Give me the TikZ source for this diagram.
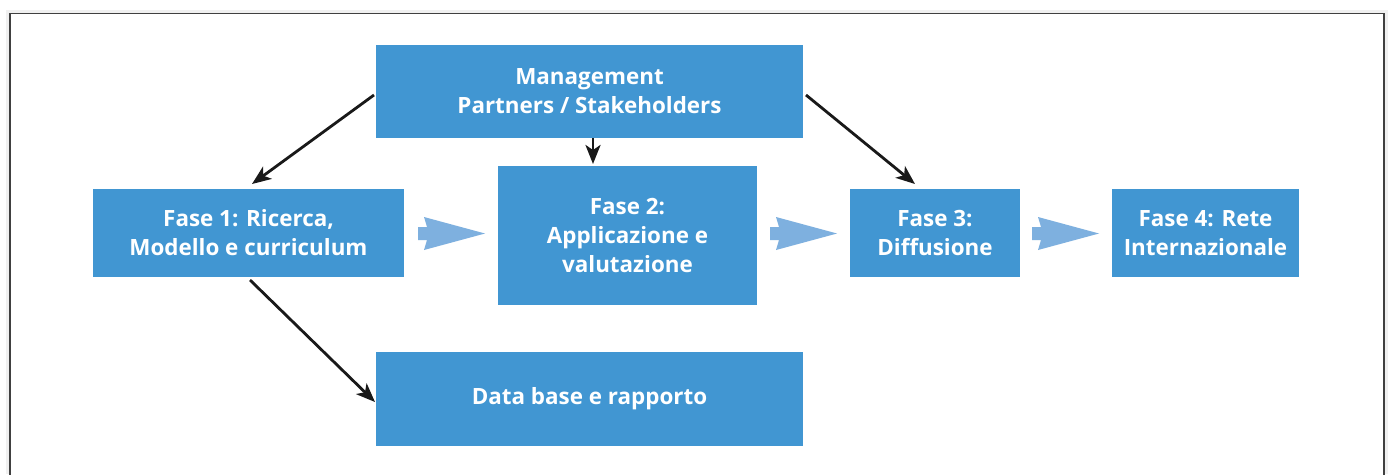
\documentclass[tikz,border=0pt]{standalone}
\usepackage{fontspec}
\setmainfont{Open Sans}
\usetikzlibrary{arrows.meta}
\definecolor{boxblue}{HTML}{4196D2}
\definecolor{arrblue}{HTML}{7EB0DF}
\tikzset{
  box/.style={fill=boxblue, text=white, font=\fontsize{22.4}{29}\selectfont\bfseries, align=center, inner sep=0pt},
  conn/.style={draw=black!90, line width=2.8pt, -{Stealth[length=19pt,width=15pt,inset=5pt]}},
  fatarrow/.style={fill=arrblue}
}
\begin{document}
\begin{tikzpicture}[x=1pt,y=-1pt]
\useasboundingbox (0,0) rectangle (1388,474);
% frame
\fill[black!6] (6,10) rectangle (1388,474);
\fill[white] (10.5,14) rectangle (1383.5,480);
\draw[black!75, line width=1.6pt] (10,480) -- (10,13.5) -- (1384,13.5) -- (1384,480);
% boxes
\node[box, minimum width=427pt, minimum height=93pt] (mgmt) at (589.5,91.5) {Management\\Partners / Stakeholders};
\node[box, minimum width=311pt, minimum height=88pt] (f1) at (248.5,233) {Fase 1: Ricerca,\\Modello e curriculum};
\node[box, minimum width=259pt, minimum height=139pt] (f2) at (627.5,235.5) {Fase 2:\\Applicazione e\\valutazione};
\node[box, minimum width=170pt, minimum height=88pt] (f3) at (935,233) {Fase 3:\\Diffusione};
\node[box, minimum width=187pt, minimum height=88pt] (f4) at (1205.5,233) {Fase 4: Rete\\Internazionale};
\node[box, minimum width=427pt, minimum height=94pt] (db) at (589.5,399) {Data base e rapporto};
% block arrows
\foreach \x/\n in {418/a1, 770/a2, 1032/a3}{
  \fill[fatarrow] (\x,227) -- (\x+9,227) -- (\x+6,217) -- (\x+67,233.5) -- (\x+6,250) -- (\x+9,240) -- (\x,240) -- cycle;
}
% connectors
\coordinate (m1) at (374,95);
\coordinate (m3) at (806,95);
\coordinate (f1b) at (250,280);
\draw[conn] (m1) -- (252,184);
\draw[conn] (mgmt.south -| 593,0) -- (593,164);
\draw[conn] (m3) -- (915,184);
\draw[conn] (f1b) -- (375,402);
\end{tikzpicture}
\end{document}
